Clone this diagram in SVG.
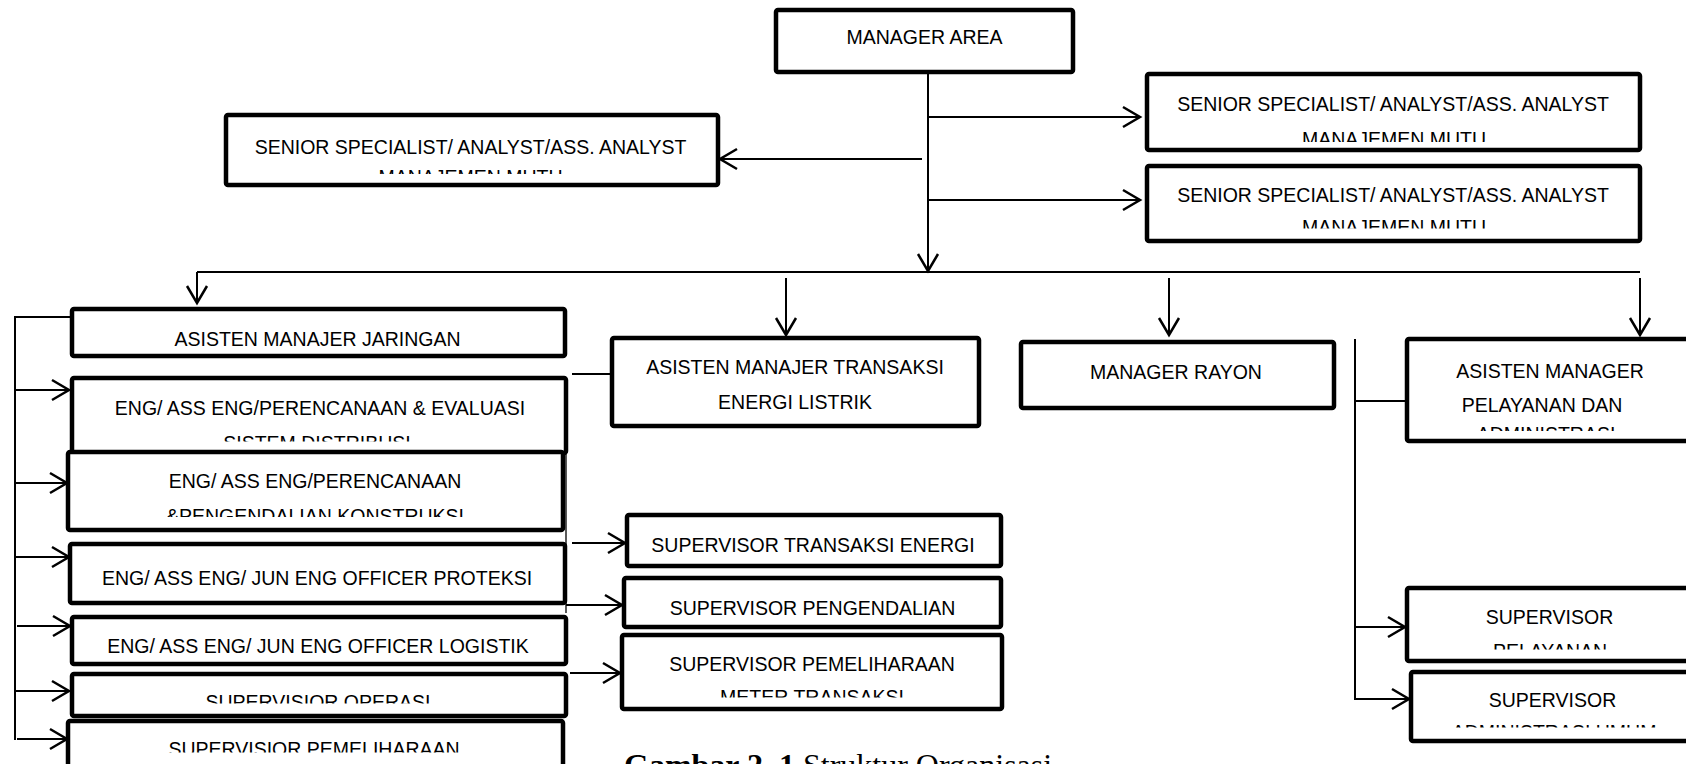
<svg xmlns="http://www.w3.org/2000/svg" width="1686" height="764" viewBox="0 0 1686 764">
<style>
.box{fill:#fff;stroke:#000;stroke-width:4.5;stroke-linejoin:round}
.t{font-family:"Liberation Sans",Arial,sans-serif;font-size:19.5px;fill:#000;text-anchor:middle}
.c{fill:none;stroke:#000;stroke-width:2}
.thin{fill:none;stroke:#000;stroke-width:1.3}
.cap{font-family:"Liberation Serif","Times New Roman",serif;font-size:32px;fill:#000}
</style>
<defs>
<marker id="ah" viewBox="-2 -2 24 26" markerWidth="24" markerHeight="26" refX="18" refY="11" orient="auto" markerUnits="userSpaceOnUse">
<path d="M1,1 L18,11 L1,21" fill="none" stroke="#000" stroke-width="2.5"/>
</marker>
<clipPath id="k2"><rect x="0" y="0" width="1686" height="174"/></clipPath>
<clipPath id="k3"><rect x="0" y="0" width="1686" height="142"/></clipPath>
<clipPath id="k4"><rect x="0" y="0" width="1686" height="228.5"/></clipPath>
<clipPath id="k6"><rect x="0" y="0" width="1686" height="441.5"/></clipPath>
<clipPath id="k7"><rect x="0" y="0" width="1686" height="517"/></clipPath>
<clipPath id="k10"><rect x="0" y="0" width="1686" height="703.5"/></clipPath>
<clipPath id="k11"><rect x="0" y="0" width="1686" height="752.5"/></clipPath>
<clipPath id="k15"><rect x="0" y="0" width="1686" height="697.5"/></clipPath>
<clipPath id="k17"><rect x="0" y="0" width="1686" height="431"/></clipPath>
<clipPath id="k18"><rect x="0" y="0" width="1686" height="649.5"/></clipPath>
<clipPath id="k19"><rect x="0" y="0" width="1686" height="727.5"/></clipPath>
</defs>

<g id="connectors">
<line class="c" x1="928" y1="73" x2="928" y2="271" marker-end="url(#ah)"/>
<line class="c" x1="928" y1="117" x2="1140" y2="117" marker-end="url(#ah)"/>
<line class="c" x1="928" y1="200" x2="1140" y2="200" marker-end="url(#ah)"/>
<line class="c" x1="922" y1="159" x2="720" y2="159" marker-end="url(#ah)"/>
<line class="c" x1="197" y1="272" x2="1640" y2="272"/>
<line class="c" x1="197" y1="272" x2="197" y2="303" marker-end="url(#ah)"/>
<line class="c" x1="786" y1="278" x2="786" y2="335" marker-end="url(#ah)"/>
<line class="c" x1="1169" y1="278" x2="1169" y2="335" marker-end="url(#ah)"/>
<line class="c" x1="1640" y1="278" x2="1640" y2="335" marker-end="url(#ah)"/>
<polyline class="c" points="72,317 15,317 15,740"/>
<line class="c" x1="15" y1="390" x2="69" y2="390" marker-end="url(#ah)"/>
<line class="c" x1="15" y1="483" x2="67" y2="483" marker-end="url(#ah)"/>
<line class="c" x1="15" y1="557" x2="69" y2="557" marker-end="url(#ah)"/>
<line class="c" x1="17" y1="626" x2="70" y2="626" marker-end="url(#ah)"/>
<line class="c" x1="15" y1="691" x2="69" y2="691" marker-end="url(#ah)"/>
<line class="c" x1="17" y1="739" x2="67" y2="739" marker-end="url(#ah)"/>
<line class="c" x1="572" y1="374" x2="612" y2="374"/>
<line class="thin" x1="566" y1="453" x2="566" y2="613"/>
<line class="c" x1="572" y1="543" x2="625" y2="543" marker-end="url(#ah)"/>
<line class="c" x1="566" y1="605" x2="622" y2="605" marker-end="url(#ah)"/>
<line class="c" x1="570" y1="673" x2="620" y2="673" marker-end="url(#ah)"/>
<line class="c" x1="1355" y1="339" x2="1355" y2="700"/>
<line class="c" x1="1355" y1="401" x2="1407" y2="401"/>
<line class="c" x1="1355" y1="627" x2="1405" y2="627" marker-end="url(#ah)"/>
<line class="c" x1="1355" y1="699" x2="1409" y2="699" marker-end="url(#ah)"/>
</g>

<g id="manager-area">
<rect class="box" x="776" y="10" width="297" height="62" rx="2"/>
<text class="t" x="924.5" y="44">MANAGER AREA</text>
</g>
<g id="senior-left">
<rect class="box" x="226" y="115" width="492" height="70" rx="2"/>
<text class="t" x="470.5" y="153.5">SENIOR SPECIALIST/ ANALYST/ASS. ANALYST</text>
<text class="t" x="470.5" y="184" clip-path="url(#k2)">MANAJEMEN MUTU</text>
</g>
<g id="senior-right-1">
<rect class="box" x="1147" y="74" width="493" height="76" rx="2"/>
<text class="t" x="1393" y="110.5">SENIOR SPECIALIST/ ANALYST/ASS. ANALYST</text>
<text class="t" x="1394" y="146" clip-path="url(#k3)">MANAJEMEN MUTU</text>
</g>
<g id="senior-right-2">
<rect class="box" x="1147" y="166" width="493" height="75" rx="2"/>
<text class="t" x="1393" y="201.5">SENIOR SPECIALIST/ ANALYST/ASS. ANALYST</text>
<text class="t" x="1394" y="233.5" clip-path="url(#k4)">MANAJEMEN MUTU</text>
</g>

<g id="am-jaringan">
<rect class="box" x="72" y="309" width="493" height="47" rx="2"/>
<text class="t" x="317.5" y="345.5">ASISTEN MANAJER JARINGAN</text>
</g>
<g id="eng-evaluasi">
<rect class="box" x="72" y="378" width="494" height="75" rx="2"/>
<text class="t" x="320" y="415">ENG/ ASS ENG/PERENCANAAN &amp; EVALUASI</text>
<text class="t" x="317" y="450" clip-path="url(#k6)">SISTEM DISTRIBUSI</text>
</g>
<g id="eng-konstruksi">
<rect class="box" x="68" y="452" width="495" height="78" rx="2"/>
<text class="t" x="315" y="488">ENG/ ASS ENG/PERENCANAAN</text>
<text class="t" x="315" y="523" clip-path="url(#k7)">&amp;PENGENDALIAN KONSTRUKSI</text>
</g>
<g id="eng-proteksi">
<rect class="box" x="70" y="544" width="495" height="59" rx="2"/>
<text class="t" x="317" y="584.5">ENG/ ASS ENG/ JUN ENG OFFICER PROTEKSI</text>
</g>
<g id="eng-logistik">
<rect class="box" x="72" y="617" width="494" height="47" rx="2"/>
<text class="t" x="318" y="653">ENG/ ASS ENG/ JUN ENG OFFICER LOGISTIK</text>
</g>
<g id="sup-operasi">
<rect class="box" x="72" y="674" width="494" height="42" rx="2"/>
<text class="t" x="318" y="708.5" clip-path="url(#k10)">SUPERVISIOR OPERASI</text>
</g>
<g id="sup-pemeliharaan">
<rect class="box" x="68" y="721" width="495" height="70" rx="2"/>
<text class="t" x="314" y="756" clip-path="url(#k11)">SUPERVISIOR PEMELIHARAAN</text>
</g>

<g id="am-transaksi">
<rect class="box" x="612" y="338" width="367" height="88" rx="2"/>
<text class="t" x="795" y="374">ASISTEN MANAJER TRANSAKSI</text>
<text class="t" x="795" y="408.5">ENERGI LISTRIK</text>
</g>
<g id="sup-transaksi-energi">
<rect class="box" x="627" y="515" width="374" height="51" rx="2"/>
<text class="t" x="813" y="552">SUPERVISOR TRANSAKSI ENERGI</text>
</g>
<g id="sup-pengendalian">
<rect class="box" x="624" y="578" width="377" height="49" rx="2"/>
<text class="t" x="812.5" y="614.5">SUPERVISOR PENGENDALIAN</text>
</g>
<g id="sup-pemeliharaan-meter">
<rect class="box" x="622" y="635" width="380" height="74" rx="2"/>
<text class="t" x="812" y="671">SUPERVISOR PEMELIHARAAN</text>
<text class="t" x="812" y="704" clip-path="url(#k15)">METER TRANSAKSI</text>
</g>

<g id="manager-rayon">
<rect class="box" x="1021" y="342" width="313" height="66" rx="2"/>
<text class="t" x="1176" y="378.5">MANAGER RAYON</text>
</g>
<g id="am-pelayanan">
<rect class="box" x="1407" y="339" width="290" height="102" rx="2"/>
<text class="t" x="1550" y="377.5">ASISTEN MANAGER</text>
<text class="t" x="1542" y="411.5">PELAYANAN DAN</text>
<text class="t" x="1546" y="441" clip-path="url(#k17)">ADMINISTRASI</text>
</g>
<g id="sup-pelayanan">
<rect class="box" x="1407" y="588" width="290" height="73" rx="2"/>
<text class="t" x="1549.5" y="624">SUPERVISOR</text>
<text class="t" x="1550" y="657.5" clip-path="url(#k18)">PELAYANAN</text>
</g>
<g id="sup-administrasi">
<rect class="box" x="1411" y="672" width="290" height="69" rx="2"/>
<text class="t" x="1552.5" y="707">SUPERVISOR</text>
<text class="t" x="1554" y="738.5" clip-path="url(#k19)">ADMINISTRASI UMUM</text>
</g>

<text class="cap" x="624" y="776"><tspan font-weight="bold">Gambar 2. 1</tspan> Struktur Organisasi</text>
</svg>
